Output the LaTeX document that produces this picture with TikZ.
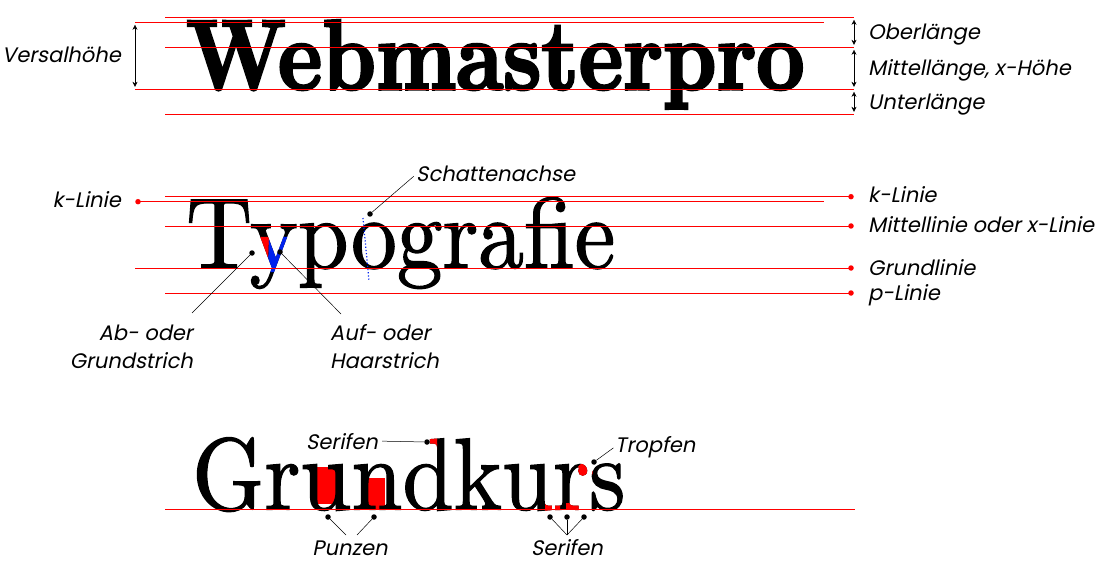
\documentclass[tikz,border=0pt]{standalone}
\usepackage{fontspec}
\usepackage{graphicx}
\usetikzlibrary{arrows.meta}
\newfontfamily\labelfont{Poppins}[FakeSlant=0.2]
\newfontfamily\heavyserif{Latin Modern Roman}[FakeBold=3]
\newfontfamily\bookserif{Latin Modern Roman}[FakeBold=1.3]
\definecolor{GuideRed}{HTML}{FF0000}
\definecolor{AxisBlue}{HTML}{0022EE}
\newcommand{\webword}{\resizebox{618pt}{69pt}{\heavyserif\bfseries Webmasterpro}}
\newcommand{\typoword}{\resizebox{429pt}{71pt}{\bookserif Typografie}}
\newcommand{\grundword}{\resizebox{433pt}{72pt}{\bookserif Grundkurs}}

\begin{document}
\begin{tikzpicture}[x=1pt,y=-1pt,>={Stealth[length=5pt,width=5pt]},
  every node/.style={inner sep=0pt},
  lbl/.style={font=\labelfont\fontsize{21}{28}\selectfont},
  guide/.style={draw=GuideRed,line width=0.9pt},
  dot/.style={circle,fill=black,minimum size=5.5pt},
  rdot/.style={circle,fill=GuideRed,minimum size=5.5pt},
  pointer/.style={draw=black,line width=0.5pt}]
  \useasboundingbox (0,0) rectangle (1115,577);

  % Webmasterpro
  \node[anchor=base west] (web) at (186,89.3) {\webword};
  \foreach \y/\xa/\xb in {17.3/165/854,22.3/135/824,47.3/165/854,89.3/135/854,114.3/165/854}
    \draw[guide] (\xa,\y) -- (\xb,\y);
  \coordinate (o1) at (854,17.3);
  \coordinate (o2) at (854,47.3);
  \coordinate (o3) at (854,89.3);
  \coordinate (o4) at (854,114.3);
  \coordinate (v1) at (135,22.3);
  \coordinate (v2) at (135,89.3);
  \draw[<->,shorten <=2.5pt,shorten >=2.5pt] (o1) -- (o2);
  \draw[<->,shorten <=2.5pt,shorten >=2.5pt] (o2) -- (o3);
  \draw[<->,shorten <=2.5pt,shorten >=2.5pt] (o3) -- (o4);
  \draw[<->,shorten <=2.5pt,shorten >=2.5pt] (v1) -- (v2);
  \node[lbl,anchor=base east] (versal) at (121,63) {Versalhöhe};
  \node[lbl,anchor=base west] (ober) at (868,40) {Oberlänge};
  \node[lbl,anchor=base west] (mittel) at (868,76) {Mittellänge, x-Höhe};
  \node[lbl,anchor=base west] (unter) at (868,110) {Unterlänge};

  % Typografie
  \node[anchor=base west] (typo) at (186,268) {\typoword};
  \begin{scope}
    \clip (240,237) -- (269,237) -- (268,267) -- (240,267) -- cycle;
    \node[anchor=base west,text=GuideRed] (typored) at (186,268) {\typoword};
  \end{scope}
  \begin{scope}
    \clip (269,237) -- (295,237) -- (295,272) -- (268,272) -- cycle;
    \node[anchor=base west,text=AxisBlue] (typoblue) at (186,268) {\typoword};
  \end{scope}
  \draw[AxisBlue,dotted,line width=1.2pt] (363,218) -- (369,281);
  \foreach \y/\xa/\xb in {196.7/165/851,201.7/138/824,226/165/851,268/135/851,293/165/851}
    \draw[guide] (\xa,\y) -- (\xb,\y);
  \node[rdot] (lk) at (138,201.7) {};
  \foreach \y/\n in {196.7/k,226/m,268/g,293/p}
    \node[rdot] (r\n) at (851,\y) {};
  \node[lbl,anchor=base east] (klinks) at (121,208) {k-Linie};
  \node[lbl,anchor=base west] (krechts) at (868,203) {k-Linie};
  \node[lbl,anchor=base west] (xlinie) at (868,233) {Mittellinie oder x-Linie};
  \node[lbl,anchor=base west] (grundl) at (868,275) {Grundlinie};
  \node[lbl,anchor=base west] (plinie) at (868,300) {p-Linie};
  \node[dot] (shdot) at (370,214) {};
  \node[lbl,anchor=base west] (schatten) at (416,182) {Schattenachse};
  \draw[pointer,shorten >=3pt] (shdot) -- (schatten.west);
  \node[dot] (abdot) at (252,253) {};
  \node[lbl,anchor=base east,align=right] (ablbl) at (193,368) {Ab- oder\\Grundstrich};
  \draw[pointer] (abdot) -- (192,313);
  \node[dot] (aufdot) at (280,252) {};
  \node[lbl,anchor=base west,align=left] (auflbl) at (330,368) {Auf- oder\\Haarstrich};
  \draw[pointer] (aufdot) -- (341,314);

  % Grundkurs
  \fill[GuideRed] (312,467) rectangle (336,504);
  \fill[GuideRed] (363,478) rectangle (385,509);
  \node[anchor=base west] (grund) at (192,509.5) {\grundword};
  \begin{scope}
    \clip (426,436) rectangle (437,449);
    \node[anchor=base west,text=GuideRed] (grundserif) at (192,509.5) {\grundword};
  \end{scope}
  \begin{scope}
    \clip (585,471) circle[radius=8];
    \node[anchor=base west,text=GuideRed] (grunddrop) at (192,509.5) {\grundword};
  \end{scope}
  \begin{scope}
    \clip (545,503) rectangle (560,512) (566,503) rectangle (585,512);
    \node[anchor=base west,text=GuideRed] (grundfoot) at (192,509.5) {\grundword};
  \end{scope}
  \draw[guide] (165,509.5) -- (855,509.5);
  \node[lbl,anchor=base east] (serlbl) at (378,449) {Serifen};
  \node[dot] (serdot) at (427,442) {};
  \draw[pointer,shorten <=4pt] (serlbl.east) -- (serdot);
  \node[lbl,anchor=base west] (troplbl) at (615,452) {Tropfen};
  \node[dot] (tropdot) at (594,462) {};
  \draw[pointer,shorten >=2pt] (tropdot) -- (troplbl.west);
  \node[lbl,anchor=base] (punlbl) at (350,555) {Punzen};
  \node[dot] (pdot1) at (328,517) {};
  \node[dot] (pdot2) at (374,517) {};
  \coordinate (pj1) at (346,535);
  \coordinate (pj2) at (357,535);
  \draw[pointer] (pdot1) -- (pj1);
  \draw[pointer] (pdot2) -- (pj2);
  \node[lbl,anchor=base] (ser2lbl) at (567,555) {Serifen};
  \coordinate (sj) at (567,535);
  \foreach \x/\n in {550/1,567/2,584/3}{
    \node[dot] (sdot\n) at (\x,517) {};
    \draw[pointer] (sdot\n) -- (sj);
  }
\end{tikzpicture}
\end{document}
